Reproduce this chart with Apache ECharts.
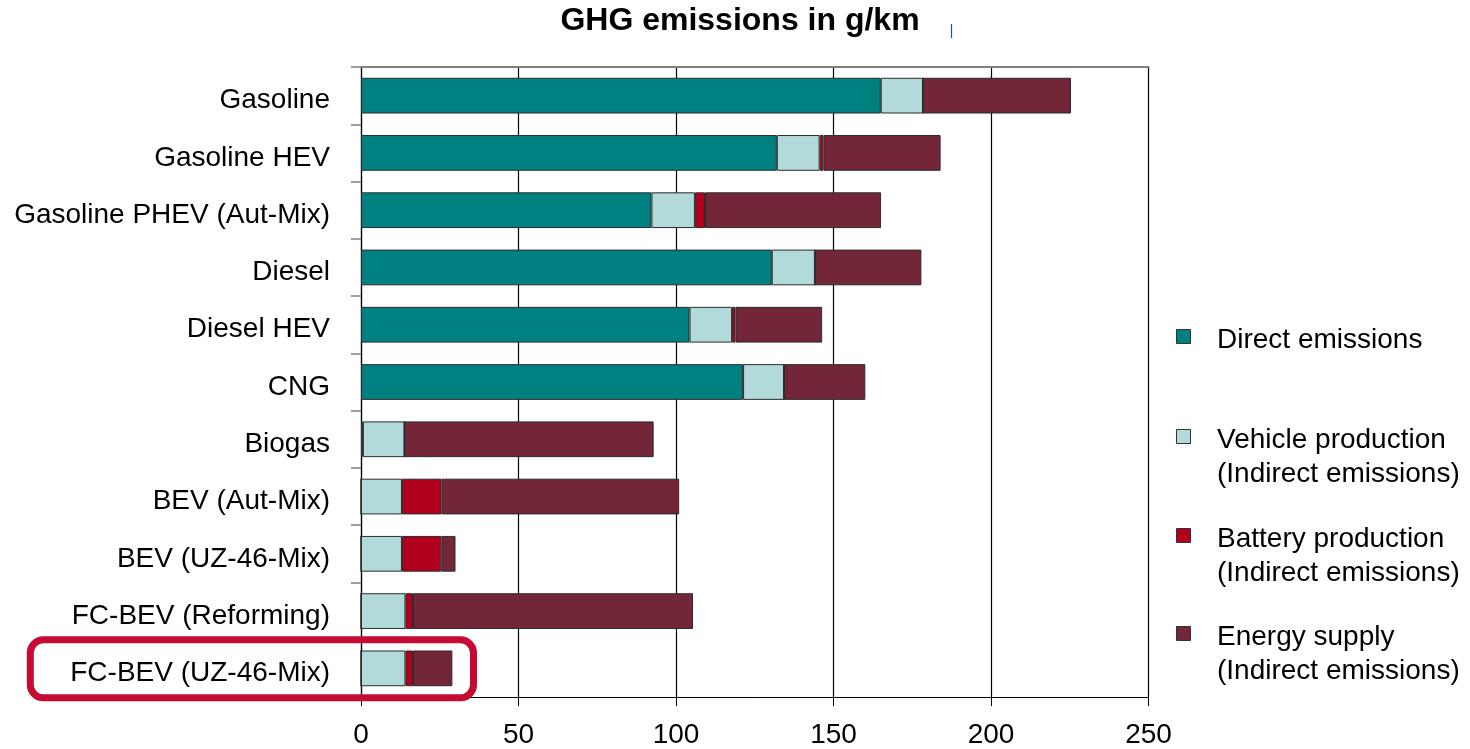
<!DOCTYPE html>
<html>
<head>
<meta charset="utf-8">
<script src="https://cdn.jsdelivr.net/npm/echarts@6/dist/echarts.min.js"></script>
<style>
  html, body { margin: 0; padding: 0; background: #fff; }
  #chart { width: 1470px; height: 749px; }
</style>
</head>
<body>
<div id="chart"></div>
<script>
// Vehicle / fuel pathways, top to bottom
const categories = [
  'Gasoline', 'Gasoline HEV', 'Gasoline PHEV (Aut-Mix)', 'Diesel', 'Diesel HEV',
  'CNG', 'Biogas', 'BEV (Aut-Mix)', 'BEV (UZ-46-Mix)', 'FC-BEV (Reforming)', 'FC-BEV (UZ-46-Mix)'
];

// GHG emissions in g/km per component
const directEmissions   = [165.0, 132.0, 92.2, 130.4, 104.3, 121.3, 0.6, 0, 0, 0, 0];
const vehicleProduction = [13.4, 13.6, 13.8, 13.7, 13.5, 13.0, 13.2, 13.0, 13.0, 14.1, 14.1];
const batteryProduction = [0, 1.2, 3.2, 0, 1.1, 0, 0, 12.6, 12.5, 2.4, 2.4];
const energySupply      = [47.0, 37.2, 55.9, 33.8, 27.5, 25.8, 79.1, 75.4, 4.5, 88.9, 12.5];

const xTicks = [0, 50, 100, 150, 200, 250];

const seriesNames = [
  'Direct emissions',
  'Vehicle production\n(Indirect emissions)',
  'Battery production\n(Indirect emissions)',
  'Energy supply\n(Indirect emissions)'
];
const seriesColors = ['#008080', '#B2DADA', '#B0001E', '#722637'];
const seriesData = [directEmissions, vehicleProduction, batteryProduction, energySupply];

const FONT = '"Liberation Sans", Arial, sans-serif';

const chart = echarts.init(document.getElementById('chart'), null, { renderer: 'canvas' });

const series = seriesData.map((d, i) => ({
  name: seriesNames[i],
  type: 'bar',
  stack: 'ghg',
  barCategoryGap: '37.6%',
  data: d,
  itemStyle: { color: seriesColors[i], borderColor: '#2b2b2b', borderWidth: 1 },
  emphasis: { disabled: true },
  animation: false
}));

// Legend swatches and labels on the right
const legendTops = [337, 437, 536, 634];
const legendGraphics = [];
seriesNames.forEach((name, i) => {
  legendGraphics.push({
    type: 'rect',
    shape: { x: 1176.5, y: legendTops[i] - 7.5, width: 14, height: 14 },
    style: { fill: seriesColors[i], stroke: '#333', lineWidth: 1 }
  });
  const lines = name.split('\n');
  lines.forEach((ln, j) => {
    legendGraphics.push({
      type: 'text',
      x: 1217,
      y: legendTops[i] + 3 + j * 34,
      style: {
        text: ln, fill: '#000', font: '28px ' + FONT,
        textAlign: 'left', textVerticalAlign: 'middle'
      }
    });
  });
});

const blueMark = {
  type: 'line',
  shape: { x1: 951.5, y1: 24, x2: 951.5, y2: 38 },
  style: { stroke: '#1F4E9C', lineWidth: 1.2 }
};

const option = {
  backgroundColor: '#fff',
  animation: false,
  title: {
    text: 'GHG emissions in g/km',
    left: 735, top: 0, textAlign: 'center',
    textStyle: { fontFamily: FONT, fontSize: 32, fontWeight: 'bold', color: '#000' }
  },
  grid: { left: 361, right: 321.5, top: 67, bottom: 48, containLabel: false },
  xAxis: [{
    type: 'value',
    min: xTicks[0], max: xTicks[xTicks.length - 1], interval: 50,
    position: 'bottom',
    axisLine: { show: true, lineStyle: { color: '#000', width: 1 } },
    axisTick: { show: true, length: 9, lineStyle: { color: '#000', width: 1 } },
    axisLabel: { color: '#000', fontSize: 28, fontFamily: FONT, margin: 24 },
    splitLine: { show: true, lineStyle: { color: '#000', width: 1.2 } }
  }, {
    type: 'value',
    min: xTicks[0], max: xTicks[xTicks.length - 1],
    position: 'top',
    axisLine: { show: true, lineStyle: { color: '#808080', width: 2 } },
    axisTick: { show: false }, axisLabel: { show: false }, splitLine: { show: false }
  }],
  yAxis: {
    type: 'category',
    data: categories,
    inverse: true,
    axisLine: { show: true, lineStyle: { color: '#000', width: 1.2 } },
    axisTick: { show: true, length: 10, lineStyle: { color: '#808080', width: 1.5 } },
    axisLabel: {
      color: '#000', fontSize: 28, fontFamily: FONT, margin: 31,
      formatter: v => '{c|' + v + '}',
      rich: { c: { color: '#000', fontSize: 28, fontFamily: FONT, padding: [10, 0, 0, 0] } }
    },
    splitLine: { show: false }
  },
  series: series,
  graphic: legendGraphics.concat([blueMark])
};

chart.setOption(option);

// Highlight frame around the last pathway label and bar
const lastY = chart.convertToPixel({ yAxisIndex: 0 }, categories[categories.length - 1]);
chart.setOption({
  graphic: legendGraphics.concat([blueMark, {
    type: 'rect',
    shape: { x: 30.3, y: lastY - 28.5, width: 443.2, height: 58, r: 13 },
    style: { fill: 'none', stroke: '#C50A34', lineWidth: 7 },
    z: 100
  }])
});
</script>
</body>
</html>
